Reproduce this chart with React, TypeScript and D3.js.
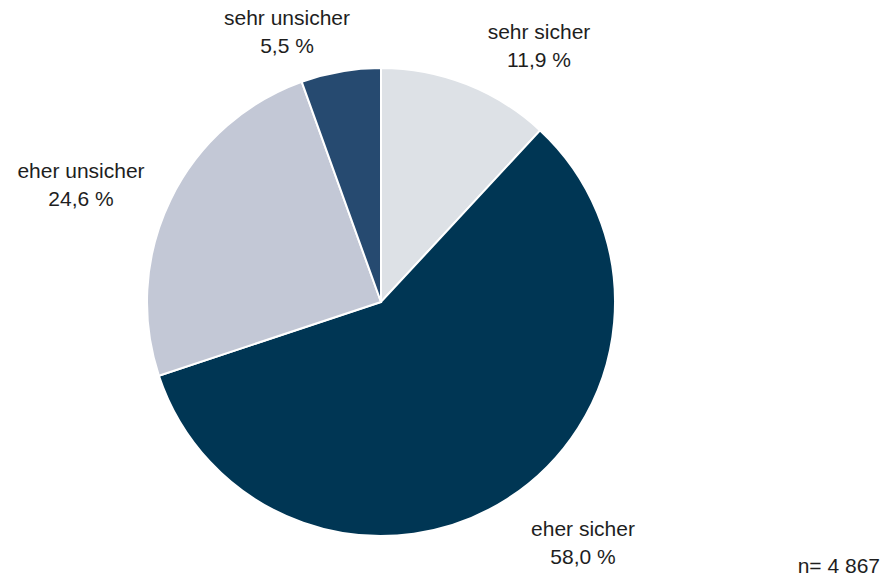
import React from 'react';
import * as d3 from 'd3';

const categories = ['sehr sicher', 'eher sicher', 'eher unsicher', 'sehr unsicher'];
const shares = [11.9, 58.0, 24.6, 5.5];
const sliceColors = ['#dde1e6', '#003654', '#c3c8d6', '#264a70'];
const sampleNote = 'n= 4 867';

// label anchor points (layout, not data)
const labelPos: [number, number][] = [
  [539, 39],
  [583, 536],
  [81, 178],
  [287, 25],
];

const W = 883;
const H = 580;
const cx = 381;
const cy = 302;
const radius = 234;

const App: React.FC = () => {
  const pie = d3
    .pie<number>()
    .value((d) => d)
    .sort(null);
  const arc = d3.arc<d3.PieArcDatum<number>>().innerRadius(0).outerRadius(radius);
  const fmt = (v: number) => v.toFixed(1).replace('.', ',') + ' %';
  const arcs = pie(shares);

  return (
    <svg width={W} height={H} style={{ position: 'absolute', left: 0, top: 0 }}>
      <rect width={W} height={H} fill="#fff" />
      <g transform={`translate(${cx},${cy})`}>
        {arcs.map((a, i) => (
          <path key={i} d={arc(a) || ''} fill={sliceColors[i]} stroke="#fff" strokeWidth={2} />
        ))}
      </g>
      <g fontFamily="'Liberation Sans', Arial, sans-serif" fontSize={21} fill="#1e1e1e" textAnchor="middle">
        {categories.map((c, i) => (
          <text key={c} x={labelPos[i][0]} y={labelPos[i][1]}>
            <tspan x={labelPos[i][0]}>{c}</tspan>
            <tspan x={labelPos[i][0]} dy={28}>
              {fmt(shares[i])}
            </tspan>
          </text>
        ))}
        <text x={880} y={573} textAnchor="end">
          {sampleNote}
        </text>
      </g>
    </svg>
  );
};

export default App;
